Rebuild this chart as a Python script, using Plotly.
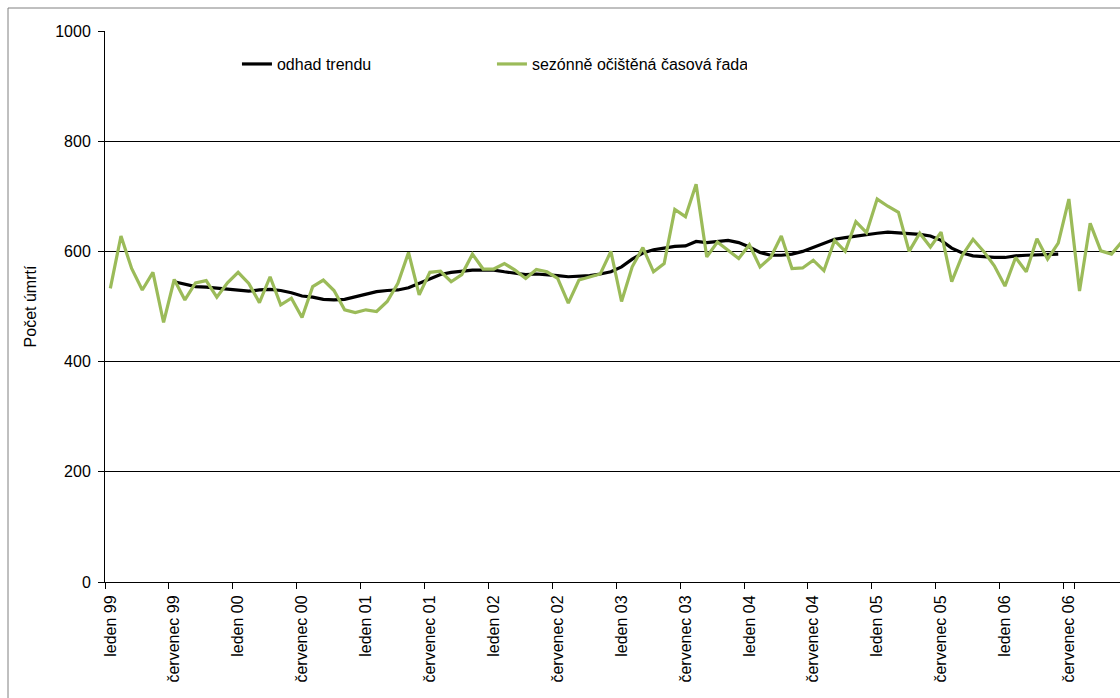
import plotly.graph_objects as go

# Monthly categories, leden 1999 - prosinec 2006
months = ["leden", "únor", "březen", "duben", "květen", "červen",
          "červenec", "srpen", "září", "říjen", "listopad", "prosinec"]
years = ["99", "00", "01", "02", "03", "04", "05", "06"]
categories = [f"{m} {y}" for y in years for m in months]

# Seasonally adjusted series (sezónně očištěná časová řada)
seasonal_adj = [
    533, 628, 569, 530, 562, 471, 549, 512, 543, 547, 517, 543,
    562, 542, 507, 554, 503, 515, 480, 536, 548, 529, 494, 489,
    494, 491, 509, 542, 598, 521, 562, 564, 545, 558, 595, 568,
    568, 578, 566, 551, 567, 563, 551, 506, 548, 554, 559, 600,
    509, 572, 607, 563, 578, 676, 663, 722, 590, 617, 602, 587,
    612, 572, 589, 628, 569, 570, 584, 565, 620, 600, 654, 634,
    695, 682, 671, 600, 633, 608, 635, 545, 593, 622, 600, 574,
    537, 589, 563, 623, 586, 615, 695, 528, 651, 601, 595, 618,
]

# Trend estimate (odhad trendu); undefined at both ends of the series
trend = [None] * 6 + [
    545, 540, 536, 535, 533, 532, 530, 528, 530, 531, 529, 525,
    519, 517, 513, 512, 513, 518, 523, 527, 529, 530, 534, 542,
    551, 558, 562, 564, 566, 566, 566, 563, 560, 558, 559, 558,
    556, 554, 555, 556, 559, 563, 572, 586, 597, 603, 606, 609,
    610, 618, 616, 618, 620, 616, 608, 598, 593, 593, 595, 600,
    607, 615, 622, 625, 628, 631, 633, 635, 634, 633, 631, 628,
    620, 606, 597, 592, 590, 589, 589, 592, 593, 594, 595, 595,
] + [None] * 6

tick_labels = [c for c in categories if c.startswith(("leden ", "červenec "))]

FONT = "Liberation Sans, Arial, sans-serif"

fig = go.Figure()
fig.add_trace(go.Scatter(
    x=categories, y=trend, mode="lines", name="odhad trendu",
    line=dict(color="#000000", width=3.2), connectgaps=False,
))
fig.add_trace(go.Scatter(
    x=categories, y=seasonal_adj, mode="lines",
    name="sezónně očištěná časová řada",
    line=dict(color="#9BBB59", width=3.2),
))

fig.update_layout(
    width=1120, height=698,
    margin=dict(l=105, r=0, t=31, b=116),
    paper_bgcolor="white", plot_bgcolor="white",
    font=dict(family=FONT, size=16, color="#000000"),
    showlegend=True,
    legend=dict(
        orientation="h", x=0.13, y=0.94, xanchor="left", yanchor="middle",
        entrywidth=210, entrywidthmode="pixels",
        font=dict(family=FONT, size=16, color="#000000"),
        bgcolor="rgba(0,0,0,0)", itemwidth=30, tracegroupgap=0,
    ),
    shapes=[dict(
        type="rect", xref="paper", yref="paper",
        x0=(8 - 105) / 1015, x1=1.2, y0=-0.5, y1=1 + (31 - 8) / 551,
        line=dict(color="#808080", width=1), layer="below",
    )],
)

fig.update_xaxes(
    type="category", categoryorder="array", categoryarray=categories,
    range=[-0.5, 94.8],
    tickmode="array", tickvals=tick_labels, ticktext=tick_labels,
    tickson="boundaries", ticks="outside", ticklen=6, tickcolor="#000000",
    tickangle=-90, tickfont=dict(family=FONT, size=16), ticklabelstandoff=6,
    showline=True, linecolor="#000000", linewidth=1,
    showgrid=False, zeroline=False,
)
fig.update_yaxes(
    range=[0, 1000], tickmode="linear", tick0=0, dtick=200,
    ticks="outside", ticklen=6, tickcolor="#000000",
    tickfont=dict(family=FONT, size=16), ticklabelstandoff=4,
    showline=True, linecolor="#000000", linewidth=1,
    showgrid=True, gridcolor="#000000", gridwidth=1, zeroline=False,
    title=dict(text="Počet úmrtí", font=dict(family=FONT, size=16), standoff=14),
)

fig.write_html("out.html")
